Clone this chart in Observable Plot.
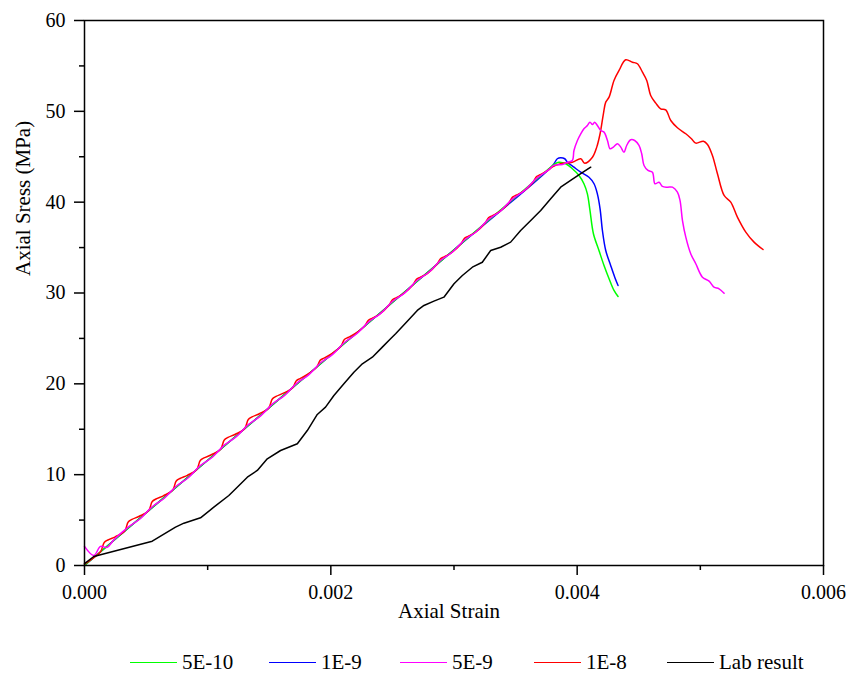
<!DOCTYPE html>
<html><head><meta charset="utf-8">
<script src="https://cdn.jsdelivr.net/npm/d3@7"></script>
<script src="https://cdn.jsdelivr.net/npm/@observablehq/plot@0.6"></script>
<style>
body{margin:0;background:#fff;font-family:"Liberation Serif","Times New Roman",serif;}
#legend{position:relative;width:848px;height:35px;}
.item{position:absolute;top:5px;height:35px;display:flex;align-items:center;font-size:21px;color:#000;white-space:nowrap;font-family:"Liberation Serif",serif;}
.sw{width:47px;height:0;border-top:1.6px solid;margin-right:5px;}
</style></head><body><div id="chart"></div><div id="legend"></div>
<script>
const seriesNames = ["5E-10", "1E-9", "5E-9", "1E-8", "Lab result"];
const seriesColors = ["#00ff00", "#0000ff", "#ff00ff", "#ff0000", "#000000"];
const xMajorTicks = [0, 0.002, 0.004, 0.006];
const xMinorTicks = [0.001, 0.003, 0.005];
const yMajorTicks = [0, 10, 20, 30, 40, 50, 60];
const yMinorTicks = [5, 15, 25, 35, 45, 55];
const xLabel = "Axial Strain";
const yLabel = "Axial Sress (MPa)";

// [axial strain, axial stress (MPa)]
const s5E10 = [[0,0],[0.001,11.59],[0.002,23.17],[0.003,34.76],[0.0038,44.02],[0.003812,44.15],[0.003852,44.40],[0.003907,44.23],[0.003961,43.68],[0.004015,42.94],[0.004055,42.03],[0.004083,40.92],[0.004104,39.09],[0.004132,36.52],[0.004177,34.68],[0.004218,33.03],[0.004259,31.57],[0.004299,30.28],[0.004332,29.62]];

const s1E9 = [[0,0],[0.001,11.59],[0.002,23.17],[0.003,34.76],[0.0038,44.02],[0.003839,44.78],[0.003866,44.89],[0.003899,44.78],[0.003921,44.40],[0.003974,43.85],[0.004029,43.30],[0.004096,42.75],[0.004137,42.03],[0.004164,40.92],[0.004186,39.27],[0.004205,36.88],[0.004232,34.68],[0.004272,33.03],[0.004305,31.74],[0.004332,30.83]];

const s5E9 = [[0,2.1],[0.000076,1.1],[0.00013,2.1],[0.000184,2.0],[0.00024,2.85],
[0.000355,4.22],[0.000455,5.17],[0.00055,6.47],[0.00065,7.43],[0.000745,8.73],[0.000845,9.69],
[0.00094,10.99],[0.00104,11.95],[0.001135,13.25],[0.001235,14.21],[0.00133,15.51],[0.00143,16.47],
[0.001525,17.77],[0.001625,18.73],[0.00172,20.03],[0.00182,20.99],[0.001915,22.29],[0.002015,23.25],
[0.00211,24.55],[0.00221,25.51],[0.002305,26.80],[0.002405,27.76],[0.0025,29.06],[0.0026,30.02],
[0.002695,31.32],[0.002795,32.28],[0.00289,33.58],[0.00299,34.54],[0.003085,35.84],[0.003185,36.80],
[0.00328,38.10],[0.00338,39.06],[0.003475,40.36],[0.003575,41.32],[0.00367,42.62],[0.00377,43.58],
[0.00381,44.05],[0.00388,44.15],[0.003921,44.40],[0.003961,44.59],[0.003974,45.69],[0.004002,46.79],
[0.004029,47.53],[0.004055,48.08],[0.004083,48.44],[0.004104,48.81],[0.004124,48.55],[0.004142,48.81],
[0.004164,48.44],[0.004191,47.89],[0.004218,47.71],[0.004246,46.79],[0.004267,45.88],[0.004294,46.06],
[0.004327,46.43],[0.004354,46.06],[0.00438,45.50],[0.004402,46.24],[0.004435,46.87],[0.004467,46.79],
[0.004502,46.24],[0.004524,45.33],[0.004543,44.04],[0.004575,43.49],[0.004611,43.30],[0.004632,42.03],
[0.004665,42.20],[0.004692,41.73],[0.004733,41.65],[0.004774,41.65],[0.004814,41.10],[0.004835,40.19],
[0.004855,37.98],[0.004882,36.15],[0.004922,34.32],[0.004963,33.22],[0.005017,31.74],[0.005071,31.30],
[0.005111,30.64],[0.005152,30.46],[0.005193,29.98]];

const s1E8 = [[0,0.15],[0.00005,0.62],[0.00013,1.51],[0.00016,2.53],[0.00019,2.81],[0.00025,3.16],
[0.000325,3.77],[0.000355,4.79],[0.000385,5.07],[0.000445,5.42],
[0.00052,6.02],[0.00055,7.04],[0.00058,7.32],[0.00064,7.67],
[0.000715,8.28],[0.000745,9.30],[0.000775,9.58],[0.000835,9.93],
[0.00091,10.54],[0.00094,11.56],[0.00097,11.84],[0.00103,12.19],
[0.001105,12.80],[0.001135,13.82],[0.001165,14.10],[0.001225,14.45],
[0.0013,15.06],[0.00133,16.08],[0.00136,16.36],[0.00142,16.71],
[0.001495,17.32],[0.001525,18.34],[0.001555,18.62],[0.001615,18.97],
[0.00169,19.58],[0.00172,20.35],[0.00175,20.58],[0.00181,21.03],
[0.001885,21.84],[0.001915,22.61],[0.001945,22.84],[0.002005,23.29],
[0.00208,24.10],[0.00211,24.87],[0.00214,25.10],[0.0022,25.55],
[0.002275,26.36],[0.002305,27.00],[0.002335,27.21],[0.002395,27.66],
[0.00247,28.62],[0.0025,29.26],[0.00253,29.47],[0.00259,29.92],
[0.002665,30.87],[0.002695,31.51],[0.002725,31.72],[0.002785,32.17],
[0.00286,33.13],[0.00289,33.77],[0.00292,33.98],[0.00298,34.43],
[0.003055,35.39],[0.003085,36.03],[0.003115,36.24],[0.003175,36.69],
[0.00325,37.65],[0.00328,38.29],[0.00331,38.50],[0.00337,38.95],
[0.003445,39.91],[0.003475,40.55],[0.003505,40.76],[0.003565,41.21],
[0.00364,42.17],[0.00367,42.81],[0.0037,43.02],[0.00376,43.47],
[0.0038,43.90],[0.003866,44.23],[0.003961,44.40],[0.004029,44.78],[0.004061,44.29],[0.004124,44.95],
[0.004159,46.06],[0.004186,47.53],[0.004213,49.73],[0.004232,51.01],[0.004259,51.56],[0.004299,53.40],
[0.00434,54.50],[0.004394,55.68],[0.004449,55.41],[0.004489,55.24],[0.00453,54.31],[0.004565,53.40],
[0.004597,51.75],[0.004638,50.90],[0.004678,50.28],[0.004719,50.17],[0.00476,48.99],[0.004814,48.19],
[0.004882,47.53],[0.004928,46.98],[0.004963,46.50],[0.005025,46.71],[0.005058,46.35],[0.005098,45.14],
[0.005139,43.13],[0.005193,40.74],[0.005247,40.00],[0.005301,38.35],[0.005369,36.70],[0.005436,35.60],
[0.005509,34.79]];

const sLab = [[0,0.2],[0.0000755,0.99],[0.00055,2.68],[0.000739,4.22],[0.000807,4.66],[0.000942,5.25],
[0.00105,6.42],[0.001172,7.71],[0.00124,8.62],[0.001322,9.72],[0.001403,10.46],[0.001484,11.75],
[0.001592,12.66],[0.001728,13.40],[0.001809,14.86],[0.00189,16.63],[0.001957,17.43],[0.002025,18.72],
[0.002106,20.01],[0.002187,21.28],[0.002256,22.21],[0.002337,22.93],[0.002418,24.04],[0.002485,24.96],
[0.002526,25.51],[0.002621,26.90],[0.002702,28.08],[0.002756,28.63],[0.002837,29.10],[0.002918,29.54],
[0.003,31.01],[0.003068,31.93],[0.003149,32.84],[0.00323,33.39],[0.003298,34.68],[0.003379,35.04],
[0.00346,35.60],[0.003541,36.88],[0.003623,37.98],[0.003704,39.09],[0.003785,40.37],[0.003866,41.65],
[0.003947,42.39],[0.004029,43.13],[0.00411,43.85]];

const seriesData = [s5E10, s1E9, s5E9, s1E8, sLab];
const drawOrder = [1, 0, 3, 2, 4];
const seriesCurves = ["catmull-rom", "catmull-rom", "catmull-rom", "catmull-rom", "linear"];

const chart = Plot.plot({
  width: 848, height: 640,
  marginLeft: 84, marginRight: 25, marginTop: 20, marginBottom: 75,
  x: {domain: [0, 0.006]},
  y: {domain: [0, 60]},
  style: {fontFamily: "'Liberation Serif', serif", fontSize: "20px", color: "black", background: "white", overflow: "visible"},
  marks: [
    ...drawOrder.map(i => Plot.line(seriesData[i], {x: d => d[0], y: d => d[1], stroke: seriesColors[i], strokeWidth: 1.5, curve: seriesCurves[i]})),
    Plot.frame({stroke: "black", strokeWidth: 1.5}),
    Plot.axisX({ticks: xMajorTicks, tickSize: 10, tickPadding: 9, tickFormat: d3.format(".3f"), label: null, strokeWidth: 1.5}),
    Plot.axisX({ticks: xMinorTicks, tickSize: 5, tickFormat: () => "", label: null, strokeWidth: 1.5}),
    Plot.axisY({ticks: yMajorTicks, tickSize: 10, tickPadding: 9, label: null, strokeWidth: 1.5}),
    Plot.axisY({ticks: yMinorTicks, tickSize: 5, tickFormat: () => "", label: null, strokeWidth: 1.5}),
    Plot.text([yLabel], {text: d => d, frameAnchor: "left", dx: -61, dy: -17, rotate: -90, fontSize: 21}),
    Plot.text([xLabel], {text: d => d, frameAnchor: "bottom", dx: -5, dy: 52, fontSize: 21})
  ]
});
document.getElementById("chart").appendChild(chart);

const legendLeft = [130, 269, 400, 534, 667];
const legend = document.getElementById("legend");
seriesNames.forEach((name, i) => {
  const item = document.createElement("div");
  item.className = "item";
  item.style.left = legendLeft[i] + "px";
  const sw = document.createElement("span");
  sw.className = "sw";
  sw.style.borderTopColor = seriesColors[i];
  const t = document.createElement("span");
  t.textContent = name;
  item.appendChild(sw);
  item.appendChild(t);
  legend.appendChild(item);
});
</script></body></html>
